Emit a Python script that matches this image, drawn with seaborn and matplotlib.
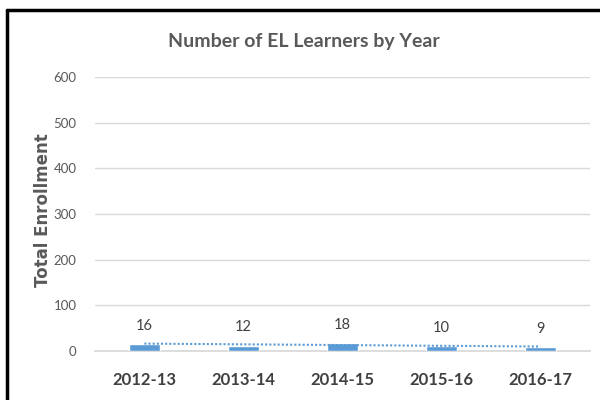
import numpy as np
import pandas as pd
import matplotlib.pyplot as plt
import seaborn as sns
from matplotlib.lines import Line2D

# datos
anios = ["2012-13", "2013-14", "2014-15", "2015-16", "2016-17"]
alumnos = [16, 12, 18, 10, 9]

df = pd.DataFrame({"Anio": anios, "Total": alumnos})

sns.set_theme(style="white")
plt.rcParams['font.family'] = ['Lato', 'DejaVu Sans']

fig = plt.figure(figsize=(6, 4), dpi=100)
ax = fig.add_axes([0.158, 0.1225, 0.825, 0.685])

sns.barplot(data=df, x="Anio", y="Total", color="#5B9BD5", width=0.31,
            saturation=1, ax=ax, zorder=3)

# linea de tendencia (ajuste lineal, como en Excel)
xs = np.arange(len(anios))
m, b = np.polyfit(xs, alumnos, 1)
ax.plot(xs, m * xs + b, linestyle=(0, (1, 1)), color="#5B9BD5", linewidth=1.5, zorder=4)

for cont in ax.containers:
    ax.bar_label(cont, padding=8, fontsize=10.5, color="#404040")

ax.set_ylim(0, 600)
ax.set_yticks(range(0, 601, 100))
ax.set_xlim(-0.5, len(anios) - 0.5)
ax.yaxis.grid(True, color="#D9D9D9", linewidth=1, zorder=0)
ax.set_axisbelow(True)
for s in ["top", "right", "left"]:
    ax.spines[s].set_visible(False)
ax.spines["bottom"].set_color("#D9D9D9")
ax.tick_params(axis="y", labelsize=9.5, labelcolor="#595959", length=0, pad=13)
ax.tick_params(axis="x", length=0, pad=15)
for t in ax.get_xticklabels():
    t.set_fontsize(12)
    t.set_fontweight("bold")
    t.set_color("#404040")

ax.set_xlabel("")
ax.set_ylabel("Total Enrollment", fontsize=12, fontweight="bold", color="#595959",
              family="DejaVu Sans")
ax.yaxis.set_label_coords(-0.087, 0.515)

fig.text(0.507, 0.895, "Number of EL Learners by Year", ha="center", va="center",
         fontsize=14, fontweight="bold", color="#595959")

# borde del recuadro
fig.add_artist(Line2D([0.012, 0.012], [0.0, 0.976], color="black", linewidth=2.5, transform=fig.transFigure))
fig.add_artist(Line2D([0.012, 1.0], [0.976, 0.976], color="black", linewidth=2.5, transform=fig.transFigure))

fig.savefig("out.png", dpi=100)
